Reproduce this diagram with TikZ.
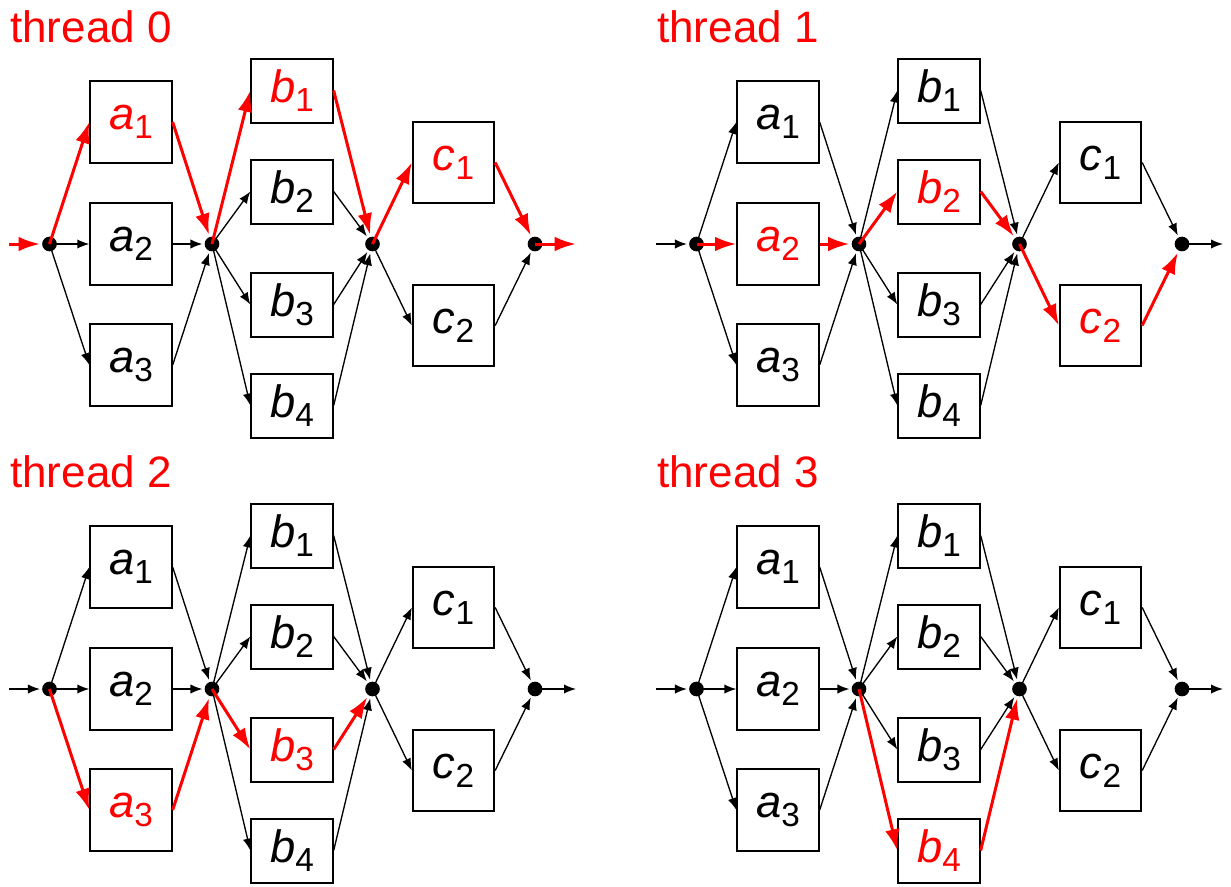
\documentclass[tikz,border=0pt]{standalone}
\usepackage{fontspec}
\setmainfont{Liberation Sans}
\usetikzlibrary{arrows.meta}

% italic letter with an upright, lowered index
\newcommand\boxlab[2]{{\fontsize{34pt}{34pt}\selectfont\itshape #1}\raisebox{-6.5pt}{\fontsize{25pt}{25pt}\selectfont #2}}

\tikzset{
  title/.style={anchor=base west, inner sep=0pt, text=red,
    font=\fontsize{33pt}{33pt}\selectfont},
  taskbox/.style={draw, line width=1.5pt, inner sep=0pt, minimum width=61pt},
  abox/.style={taskbox, minimum height=61pt},
  bbox/.style={taskbox, minimum height=48pt},
  joint/.style={circle, fill=black, inner sep=0pt, minimum size=11pt},
  plain/.style={line width=1pt, black, -{Latex[length=9pt,width=7pt]}},
  hot/.style={line width=2.25pt, red, -{Latex[length=16pt,width=11pt]}},
  todot/.style={shorten >=1.5pt},
  % every edge is plain and every label black unless a panel says otherwise
  Ein/.style={plain}, Eout/.style={plain},
  Ed1a1/.style={plain}, Ed1a2/.style={plain}, Ed1a3/.style={plain},
  Ea1d2/.style={plain}, Ea2d2/.style={plain}, Ea3d2/.style={plain},
  Ed2b1/.style={plain}, Ed2b2/.style={plain}, Ed2b3/.style={plain}, Ed2b4/.style={plain},
  Eb1d3/.style={plain}, Eb2d3/.style={plain}, Eb3d3/.style={plain}, Eb4d3/.style={plain},
  Ed3c1/.style={plain}, Ed3c2/.style={plain},
  Ec1d4/.style={plain}, Ec2d4/.style={plain},
  La1/.style={}, La2/.style={}, La3/.style={},
  Lb1/.style={}, Lb2/.style={}, Lb3/.style={}, Lb4/.style={},
  Lc1/.style={}, Lc2/.style={},
}

% all connectors of one panel (#1 = name prefix)
\newcommand\edges[1]{%
  \draw[Ein, todot] (#1in) -- (#1d1);
  \draw[Ed1a1] (#1d1.center) -- (#1a1.west);
  \draw[Ed1a2] (#1d1.center) -- (#1a2.west);
  \draw[Ed1a3] (#1d1.center) -- (#1a3.west);
  \draw[Ea1d2, todot] (#1a1.east) -- (#1d2);
  \draw[Ea2d2, todot] (#1a2.east) -- (#1d2);
  \draw[Ea3d2, todot] (#1a3.east) -- (#1d2);
  \draw[Ed2b1] (#1d2.center) -- (#1b1.west);
  \draw[Ed2b2] (#1d2.center) -- (#1b2.west);
  \draw[Ed2b3] (#1d2.center) -- (#1b3.west);
  \draw[Ed2b4] (#1d2.center) -- (#1b4.west);
  \draw[Eb1d3, todot] (#1b1.east) -- (#1d3);
  \draw[Eb2d3, todot] (#1b2.east) -- (#1d3);
  \draw[Eb3d3, todot] (#1b3.east) -- (#1d3);
  \draw[Eb4d3, todot] (#1b4.east) -- (#1d3);
  \draw[Ed3c1] (#1d3.center) -- (#1c1.west);
  \draw[Ed3c2] (#1d3.center) -- (#1c2.west);
  \draw[Ec1d4, todot] (#1c1.east) -- (#1d4);
  \draw[Ec2d4, todot] (#1c2.east) -- (#1d4);
  \draw[Eout] (#1d4.center) -- (#1out);
}

% one panel: #1,#2 offset, #3 prefix, #4 title, #5 highlighted path
\newcommand\panel[5]{%
  \begin{scope}[shift={(#1,#2)}, #5]
    \node[title] (#3t) at (10,42) {#4};
    \node[abox, La1] (#3a1) at (131,122) {\boxlab{a}{1}};
    \node[abox, La2] (#3a2) at (131,244) {\boxlab{a}{2}};
    \node[abox, La3] (#3a3) at (131,365) {\boxlab{a}{3}};
    \node[bbox, Lb1] (#3b1) at (292,90.5) {\boxlab{b}{1}};
    \node[bbox, Lb2] (#3b2) at (292,191.5) {\boxlab{b}{2}};
    \node[bbox, Lb3] (#3b3) at (292,304.5) {\boxlab{b}{3}};
    \node[bbox, Lb4] (#3b4) at (292,405.5) {\boxlab{b}{4}};
    \node[abox, Lc1] (#3c1) at (453.5,162.5) {\boxlab{c}{1}};
    \node[abox, Lc2] (#3c2) at (453.5,325.5) {\boxlab{c}{2}};
    \node[joint] (#3d1) at (49.5,244) {};
    \node[joint] (#3d2) at (212,244) {};
    \node[joint] (#3d3) at (372.5,244) {};
    \node[joint] (#3d4) at (535,244) {};
    \coordinate (#3in) at (9,244);
    \coordinate (#3out) at (576,244);
    % black connectors first, red path on top
    \begin{scope}[hot/.append style={draw=none}] \edges{#3} \end{scope}
    \begin{scope}[plain/.append style={draw=none}] \edges{#3} \end{scope}
  \end{scope}}

\begin{document}
\begin{tikzpicture}[x=0.75pt, y=-0.75pt]
  \useasboundingbox (0,0) rectangle (1231,886);

  \panel{0}{0}{p0}{thread 0}{Ein/.style={hot}, Ed1a1/.style={hot}, Ea1d2/.style={hot},
    Ed2b1/.style={hot}, Eb1d3/.style={hot}, Ed3c1/.style={hot}, Ec1d4/.style={hot},
    Eout/.style={hot}, La1/.style={text=red}, Lb1/.style={text=red}, Lc1/.style={text=red}}

  \panel{647}{0}{p1}{thread 1}{Ed1a2/.style={hot}, Ea2d2/.style={hot},
    Ed2b2/.style={hot}, Eb2d3/.style={hot}, Ed3c2/.style={hot}, Ec2d4/.style={hot},
    La2/.style={text=red}, Lb2/.style={text=red}, Lc2/.style={text=red}}

  \panel{0}{445}{p2}{thread 2}{Ed1a3/.style={hot}, Ea3d2/.style={hot},
    Ed2b3/.style={hot}, Eb3d3/.style={hot},
    La3/.style={text=red}, Lb3/.style={text=red}}

  \panel{647}{445}{p3}{thread 3}{Ed2b4/.style={hot}, Eb4d3/.style={hot},
    Lb4/.style={text=red}}
\end{tikzpicture}
\end{document}
